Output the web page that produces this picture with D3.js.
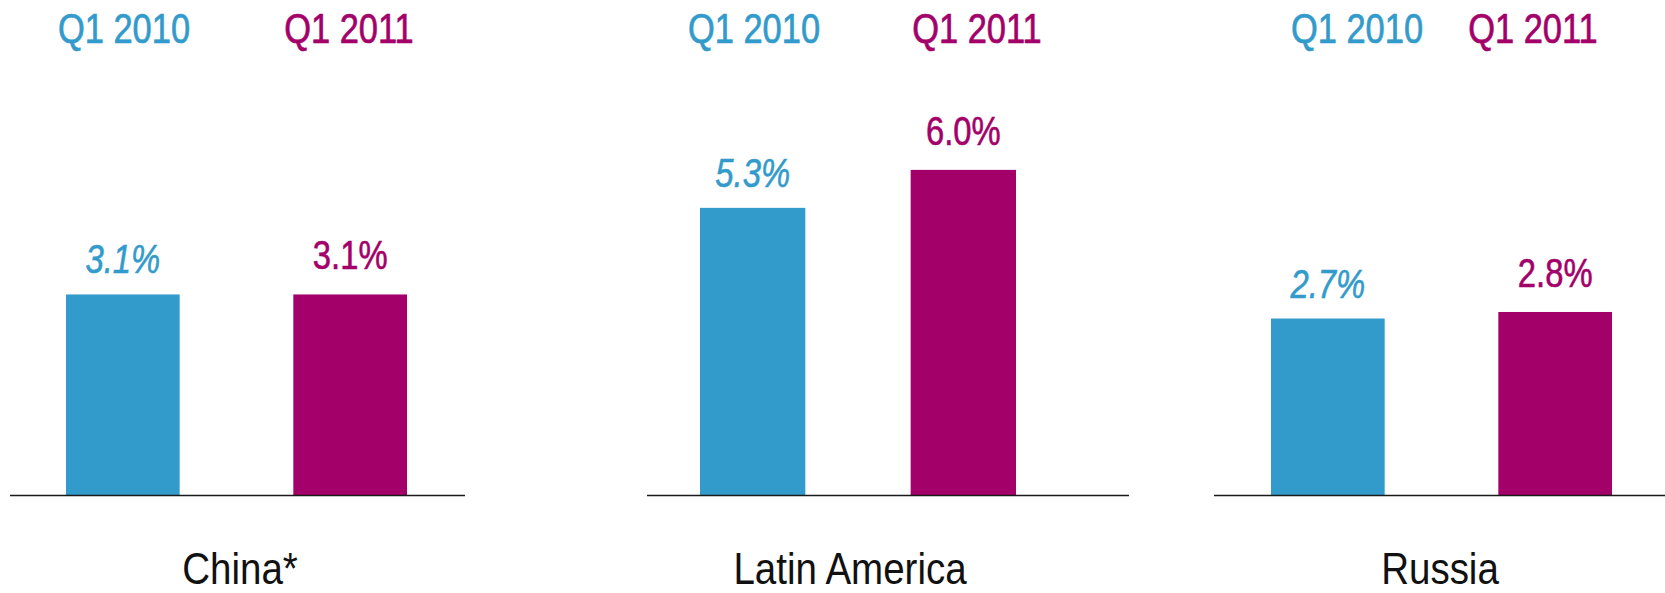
<!DOCTYPE html>
<html lang="en">
    <head>
        <meta charset="utf-8">
        <title>Q1 2010 vs Q1 2011</title>
        <script type="text/javascript" src="https://cdn.jsdelivr.net/npm/d3@7/dist/d3.min.js"></script>
        <style type="text/css">
        body {
            margin: 0;
            background: #ffffff;
            }
        text {
            font-family: "Liberation Sans", Arial, sans-serif;
            }
        .baseline {
            stroke: #1a1a1a;
            stroke-width: 1.6px;
            }
		</style>
    </head>
    <body>
        <script type="text/javascript">

            //Data
            var regions = ["China*", "Latin America", "Russia"];
            var series = ["Q1 2010", "Q1 2011"];
            var q1_2010 = [3.1, 5.3, 2.7];
            var q1_2011 = [3.1, 6.0, 2.8];
            var valueLabels2010 = ["3.1%", "5.3%", "2.7%"];
            var valueLabels2011 = ["3.1%", "6.0%", "2.8%"];

            var width = 1665, height = 593;
            var baseY = 495.5;

            //each panel is its own little chart (own x range and own y max)
            var panels = [
                {axis: [10, 465],    bars: [66, 407],   yMax: 7.64, head: [124, 349],   name: 240},
                {axis: [647, 1129],  bars: [700, 1016], yMax: 9.13, head: [754, 977],   name: 850},
                {axis: [1214, 1665], bars: [1271, 1612], yMax: 7.56, head: [1357, 1533], name: 1440}
            ];

            var CScale = d3.scaleOrdinal().domain(series).range(["#339bcb", "#a3006a"]);

            var svg = d3.select("body")
                        .append("svg")
                            .attr("width", width)
                            .attr("height", height);

            //helper: squeezed text centred on x, baseline y
            function narrowText(sel, x, y, k) {
                return sel.attr("transform", function(d, j) {
                        return "translate(" + x(d, j) + "," + y(d, j) + ") scale(" + k + ",1)";
                    })
                    .style("text-anchor", "middle");
            }

            regions.forEach(function(region, i) {
                var p = panels[i];
                var rows = [
                    {s: series[0], v: q1_2010[i], lab: valueLabels2010[i]},
                    {s: series[1], v: q1_2011[i], lab: valueLabels2011[i]}
                ];

                var XScale = d3.scaleBand().domain(series).range(p.bars).paddingInner(0.5).paddingOuter(0);
                var YScale = d3.scaleLinear().domain([0, p.yMax]).range([baseY, 0]);

                var g = svg.append("g").attr("class", "panel");

                //series headers
                g.selectAll(".head")
                    .data(series)
                    .enter().append("text")
                        .attr("class", "head")
                        .call(narrowText, function(d, j) { return p.head[j]; }, function() { return 43; }, 0.82)
                        .style("font-size", "42px")
                        .style("fill", function(d) { return CScale(d); })
                        .style("stroke", function(d) { return CScale(d); })
                        .style("stroke-width", "0.7px")
                        .text(function(d) { return d; });

                //bars
                g.selectAll(".bar")
                    .data(rows)
                    .enter().append("rect")
                        .attr("class", "bar")
                        .attr("x", function(d) { return XScale(d.s); })
                        .attr("width", XScale.bandwidth())
                        .attr("y", function(d) { return YScale(d.v); })
                        .attr("height", function(d) { return baseY - YScale(d.v); })
                        .style("fill", function(d) { return CScale(d.s); });

                //value labels (2010 italic)
                g.selectAll(".val")
                    .data(rows)
                    .enter().append("text")
                        .attr("class", "val")
                        .call(narrowText,
                            function(d) { return XScale(d.s) + XScale.bandwidth() / 2; },
                            function(d, j) { return YScale(d.v) - (j == 0 ? 21 : 25); }, 0.82)
                        .style("font-size", "40px")
                        .style("font-style", function(d, j) { return j == 0 ? "italic" : "normal"; })
                        .style("fill", function(d) { return CScale(d.s); })
                        .style("stroke", function(d) { return CScale(d.s); })
                        .style("stroke-width", "0.6px")
                        .text(function(d) { return d.lab; });

                //baseline
                g.append("line")
                    .attr("class", "baseline")
                    .attr("x1", p.axis[0])
                    .attr("x2", p.axis[1])
                    .attr("y1", baseY)
                    .attr("y2", baseY);

                //region name
                g.append("text")
                    .datum(region)
                    .call(narrowText, function() { return p.name; }, function() { return 584; }, 0.875)
                    .style("font-size", "44px")
                    .style("fill", "#111")
                    .text(region);
            });
        </script>
    </body>
</html>
